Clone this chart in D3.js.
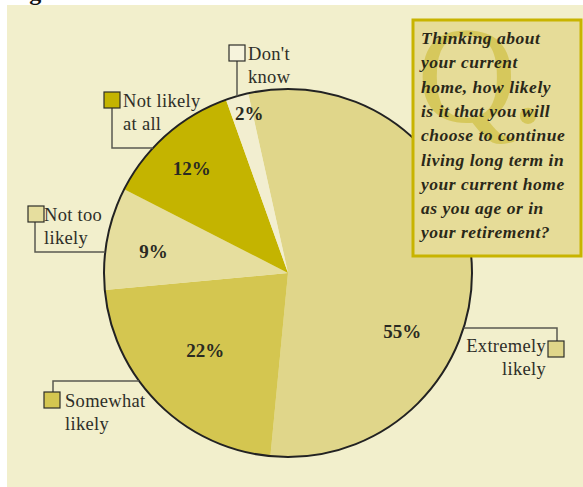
<!DOCTYPE html>
<html lang="en">
<head>
  <meta charset="utf-8">
  <title>Living long term in current home</title>
  <script src="https://d3js.org/d3.v7.min.js"></script>
  <style>
    body { margin: 0; background: #fff; }
    svg text { font-family: "Liberation Serif", "DejaVu Serif", serif; }
    .pct { font-weight: bold; font-size: 19px; fill: #2a2a22; text-anchor: middle; }
    .lbl { font-size: 18.5px; fill: #2e2e28; letter-spacing: 0.3px; }
    .leader { stroke: #5a5a50; stroke-width: 1.5; fill: none; }
    .key { stroke: #2e2e28; stroke-width: 1.2; }
    .question { font-style: italic; font-weight: bold; font-size: 17.5px; fill: #2a2818; letter-spacing: 0.5px; }
  </style>
</head>
<body>
<svg id="chart" width="583" height="487"></svg>
<script>
  // data, clockwise from just left of 12 o'clock
  const categories = ["Extremely likely", "Somewhat likely", "Not too likely", "Not likely at all", "Don't know"];
  const values = [55, 22, 9, 12, 2];
  const pctLabels = ["55%", "22%", "9%", "12%", "2%"];
  const legendLines = [["Extremely", "likely"], ["Somewhat", "likely"], ["Not too", "likely"], ["Not likely", "at all"], ["Don't", "know"]];
  const questionLines = ["Thinking about", "your current", "home, how likely", "is it that you will",
    "choose to continue", "living long term in", "your current home", "as you age or in", "your retirement?"];

  const colors = ["#e0d68a", "#d4c650", "#e6de9e", "#c4b400", "#f2eed0"];

  const svg = d3.select("#chart");
  const cx = 288, cy = 273, r = 184;

  // beige panel
  svg.append("rect").attr("x", 7).attr("y", 5).attr("width", 576).attr("height", 482).attr("fill", "#f2efcc");

  // cut-off title above panel
  svg.append("text").attr("x", 8).attr("y", 0)
    .attr("font-weight", "bold").attr("font-size", 24).attr("fill", "#111")
    .text("Fig");

  const pie = d3.pie().sort(null).value(d => d)
    .startAngle(-12.5 * Math.PI / 180).endAngle(347.5 * Math.PI / 180);
  const arcs = pie(values);
  const arc = d3.arc().innerRadius(0).outerRadius(r);

  const g = svg.append("g").attr("transform", `translate(${cx},${cy})`);
  g.selectAll("path.slice").data(arcs).enter().append("path")
    .attr("class", "slice")
    .attr("d", arc)
    .attr("fill", (d, i) => colors[i]);

  g.append("circle").attr("r", r).attr("fill", "none").attr("stroke", "#222").attr("stroke-width", 2);

  // label placement: fraction of radius, optional angle shift (degrees)
  const labelPlace = [[0.70, 31], [0.62, 1.5], [0.74, -2], [0.77, -1.5], [0.89, 2.4]];
  g.selectAll("text.pct").data(arcs).enter().append("text")
    .attr("class", "pct")
    .attr("x", (d, i) => {
      const a = (d.startAngle + d.endAngle) / 2 + labelPlace[i][1] * Math.PI / 180;
      return Math.sin(a) * r * labelPlace[i][0];
    })
    .attr("y", (d, i) => {
      const a = (d.startAngle + d.endAngle) / 2 + labelPlace[i][1] * Math.PI / 180;
      return -Math.cos(a) * r * labelPlace[i][0] + 6;
    })
    .text((d, i) => pctLabels[i]);

  // point on the circle for a horizontal leader at height y (side -1 left, +1 right)
  const edgeX = (y, side) => cx + side * Math.sqrt(r * r - (y - cy) * (y - cy));
  const edgeY = x => cy - Math.sqrt(r * r - (x - cx) * (x - cx));

  // legend keys: box position, text position, leader path
  const keys = [
    { box: [548, 341], text: [546, 352], anchor: "end",
      path: [[557, 341], [557, 328], [edgeX(328, 1), 328]] },
    { box: [44, 392], text: [65, 407], anchor: "start",
      path: [[53, 392], [53, 381], [edgeX(381, -1), 381]] },
    { box: [28, 206], text: [44, 221], anchor: "start",
      path: [[35, 222], [35, 252], [edgeX(252, -1), 252]] },
    { box: [104, 92], text: [123, 107], anchor: "start",
      path: [[112, 108], [112, 148], [edgeX(148, -1), 148]] },
    { box: [229, 45], text: [248, 60], anchor: "start",
      path: [[237, 61], [237, edgeY(237)]] }
  ];

  keys.forEach((k, i) => {
    svg.append("path").attr("class", "leader").attr("d", d3.line()(k.path));
    svg.append("rect").attr("class", "key")
      .attr("x", k.box[0]).attr("y", k.box[1]).attr("width", 16).attr("height", 16)
      .attr("fill", colors[i] === "#f2eed0" ? "#f6f3dc" : colors[i]);
    const t = svg.append("text").attr("class", "lbl").attr("text-anchor", k.anchor)
      .attr("x", k.text[0]).attr("y", k.text[1]);
    legendLines[i].forEach((line, j) => {
      t.append("tspan").attr("x", k.text[0]).attr("dy", j === 0 ? 0 : 22.5).text(line);
    });
  });

  // question box
  const qb = svg.append("g");
  qb.append("clipPath").attr("id", "qclip")
    .append("rect").attr("x", 413).attr("y", 20).attr("width", 168).attr("height", 236);
  qb.append("rect").attr("x", 413).attr("y", 20).attr("width", 168).attr("height", 236)
    .attr("fill", "#e6dc98").attr("stroke", "#c8b400").attr("stroke-width", 3);
  qb.append("text").attr("clip-path", "url(#qclip)")
    .attr("x", 417).attr("y", 122).attr("font-size", 138).attr("fill", "#d6c85c")
    .attr("letter-spacing", -6)
    .text("Q.");
  const qt = qb.append("text").attr("class", "question");
  questionLines.forEach((line, j) => {
    qt.append("tspan").attr("x", 421).attr("y", 44 + j * 24.3).text(line);
  });
</script>
</body>
</html>
